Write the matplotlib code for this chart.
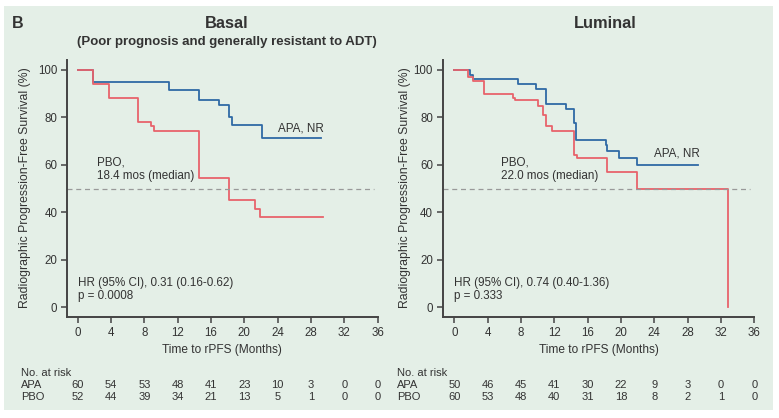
import matplotlib.pyplot as plt
import matplotlib.transforms as mtransforms
import numpy as np

plt.rcParams['font.family'] = ['Liberation Sans', 'DejaVu Sans']

# Basal panel step data (months, % rPFS)
basal_apa_t = [0, 1.8, 10.9, 14.5, 17.0, 18.1, 18.5, 22.1, 29.2]
basal_apa_s = [100, 95, 91.4, 87.5, 85.4, 80.2, 76.9, 71.4, 71.4]
basal_pbo_t = [0, 1.8, 3.7, 7.2, 8.85, 9.1, 14.6, 18.1, 21.3, 21.9, 29.4]
basal_pbo_s = [100, 94.2, 88.2, 78.1, 76.2, 74.1, 54.4, 45.3, 41.5, 38, 38]

# Luminal panel step data
lum_apa_t = [0, 1.9, 2.3, 7.66, 9.85, 11.05, 13.4, 14.35, 14.6, 18.2, 18.3, 19.8, 21.9, 29.3]
lum_apa_s = [100, 98, 96.3, 94.2, 92, 85.7, 83.7, 77.6, 70.6, 68.2, 65.7, 62.9, 59.8, 59.8]
lum_pbo_t = [0, 1.7, 2.3, 3.6, 7.05, 7.26, 10.05, 10.7, 11.05, 11.7, 14.4, 14.75, 18.3, 21.9, 32.8]
lum_pbo_s = [100, 97, 95.4, 90, 88.2, 87.2, 84.9, 81, 76.2, 74.1, 64.3, 62.9, 57.2, 49.9, 0]

risk_times = [0, 4, 8, 12, 16, 20, 24, 28, 32, 36]
basal_risk_apa = [60, 54, 53, 48, 41, 23, 10, 3, 0, 0]
basal_risk_pbo = [52, 44, 39, 34, 21, 13, 5, 1, 0, 0]
lum_risk_apa = [50, 46, 45, 41, 30, 22, 9, 3, 0, 0]
lum_risk_pbo = [60, 53, 48, 40, 31, 18, 8, 2, 1, 0]

bg = '#e4efe7'
blue = '#2f69a5'
red = '#e8636b'
txt = '#333333'
W, H = 779, 418

fig = plt.figure(figsize=(W / 100, H / 100), dpi=100)
fig.patch.set_facecolor('white')
fig.add_artist(plt.Rectangle((4 / W, 1 - 410 / H), (773 - 4) / W, (410 - 6) / H,
                             transform=fig.transFigure, facecolor=bg, edgecolor='none', zorder=0))


def make_panel(left_px, zero_px, ttl, pbo_text, hr_text, p_text,
               apa_t, apa_s, pbo_t, pbo_s, risk_apa, risk_pbo, label_x, risk_lbl_x):
    ppm = 300 / 36.0
    xmin = -(zero_px - left_px) / ppm
    ax = fig.add_axes([left_px / W, (H - 317) / H, (zero_px + 300 - left_px) / W, (317 - 60) / H])
    ax.set_facecolor('none')
    ax.set_xlim(xmin, 36)
    ax.set_ylim(-4.1, 104.2)
    ax.step(apa_t, apa_s, where='post', color=blue, lw=1.3)
    ax.step(pbo_t, pbo_s, where='post', color=red, lw=1.3)
    ax.plot([xmin, 35.5], [50, 50], ls=(0, (4, 3)), color='#999999', lw=0.9)
    for s in ['top', 'right']:
        ax.spines[s].set_visible(False)
    for s in ['left', 'bottom']:
        ax.spines[s].set_linewidth(1.4)
        ax.spines[s].set_color('#444444')
    ax.set_xticks(risk_times)
    ax.set_yticks([0, 20, 40, 60, 80, 100])
    ax.tick_params(direction='out', length=4, width=1.1, color='#444444',
                   labelsize=8.3, labelcolor=txt, pad=3)
    ax.set_xlabel('Time to rPFS (Months)', fontsize=8.6, color=txt, labelpad=4)
    fig.text(label_x / W, 1 - 188 / H, 'Radiographic Progression-Free Survival (%)',
             rotation=90, fontsize=8.8, color=txt, ha='center', va='center')
    ax.text(24, 75.5 if ttl == 'Basal' else 64.7, 'APA, NR', fontsize=8.4, color=txt, va='center')
    ax.text(2.3 if ttl == 'Basal' else 5.6, 58, pbo_text, fontsize=8.4, color=txt,
            va='center', linespacing=1.15)
    ax.text(0, 7.3, hr_text + '\n' + p_text, fontsize=8.4, color=txt, va='center', linespacing=1.1)
    tr = mtransforms.blended_transform_factory(ax.transData, fig.transFigure)
    fig.text(risk_lbl_x / W, 1 - 373 / H, 'No. at risk', fontsize=8, color=txt, va='center')
    fig.text(risk_lbl_x / W, 1 - 385 / H, 'APA', fontsize=8, color=txt, va='center')
    fig.text(risk_lbl_x / W, 1 - 397 / H, 'PBO', fontsize=8, color=txt, va='center')
    for t, a, p in zip(risk_times, risk_apa, risk_pbo):
        ax.text(t, 1 - 385 / H, str(a), transform=tr, fontsize=8, color=txt, ha='center', va='center')
        ax.text(t, 1 - 397 / H, str(p), transform=tr, fontsize=8, color=txt, ha='center', va='center')
    return ax


make_panel(67, 77.7, 'Basal', 'PBO,\n18.4 mos (median)', 'HR (95% CI), 0.31 (0.16-0.62)',
           'p = 0.0008', basal_apa_t, basal_apa_s, basal_pbo_t, basal_pbo_s,
           basal_risk_apa, basal_risk_pbo, 25, 21)
make_panel(442.7, 454.3, 'Luminal', 'PBO,\n22.0 mos (median)', 'HR (95% CI), 0.74 (0.40-1.36)',
           'p = 0.333', lum_apa_t, lum_apa_s, lum_pbo_t, lum_pbo_s,
           lum_risk_apa, lum_risk_pbo, 405, 397)

fig.text(12 / W, 1 - 24 / H, 'B', fontsize=11.5, fontweight='bold', color=txt, va='center')
fig.text(227 / W, 1 - 24 / H, 'Basal', fontsize=11.8, fontweight='bold', color=txt, ha='center', va='center')
fig.text(227 / W, 1 - 42 / H, '(Poor prognosis and generally resistant to ADT)', fontsize=9.5,
         fontweight='bold', color=txt, ha='center', va='center')
fig.text(605 / W, 1 - 24 / H, 'Luminal', fontsize=11.8, fontweight='bold', color=txt, ha='center', va='center')

fig.savefig('out.png', dpi=100)
